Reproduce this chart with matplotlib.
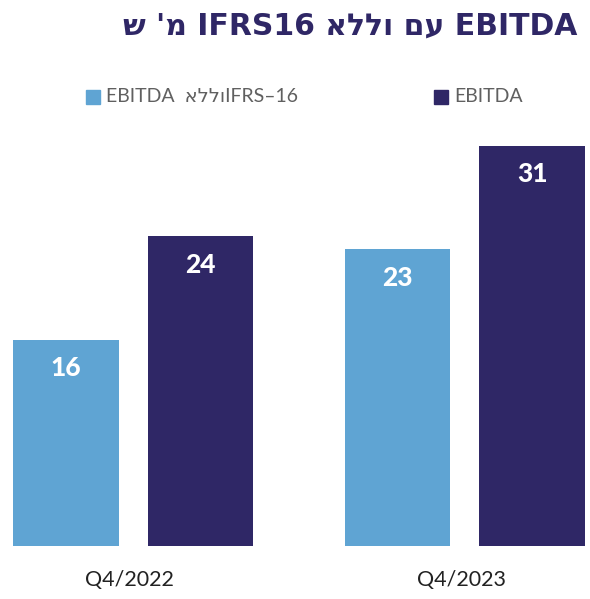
import numpy as np
import matplotlib.pyplot as plt
from matplotlib.patches import Rectangle

# data
quarters = ['Q4/2022', 'Q4/2023']
ebitda_no_ifrs = [16, 23]
ebitda = [24, 31]

# hebrew typed in visual order (matplotlib has no bidi)
title = "ש 'מ IFRS16 אללו םע EBITDA"
legend_labels = ["EBITDA  אללוIFRS–16", "EBITDA"]

light = '#5fa4d3'
dark = '#2f2766'

plt.rcParams['font.family'] = ['Lato', 'DejaVu Sans']

W, H = 590, 599
fig = plt.figure(figsize=(W / 100, H / 100), dpi=100)
ax = fig.add_axes([13 / W, 53 / H, 572 / W, 12.9 * 32 / H])

x = np.arange(len(quarters))
bw = 0.319
off = 0.203
b1 = ax.bar(x - off, ebitda_no_ifrs, bw, color=light)
b2 = ax.bar(x + off, ebitda, bw, color=dark)

for bars, vals in ((b1, ebitda_no_ifrs), (b2, ebitda)):
    for b, v in zip(bars, vals):
        ax.text(b.get_x() + b.get_width() / 2, v - 2.2, str(v), ha='center', va='center',
                color='white', fontsize=19, fontweight='black')

ax.set_xlim(-off - bw / 2, 1 + off + bw / 2)
ax.set_ylim(0, 32)
ax.set_xticks(x - 0.01)
ax.set_xticklabels(quarters, fontsize=15.5, color='#222222')
ax.tick_params(axis='x', length=0, pad=17)
ax.set_yticks([])
for s in ax.spines.values():
    s.set_visible(False)

fig.text(577 / W, 1 - 26 / H, title, ha='right', va='center', fontsize=21.5,
         fontweight='bold', color=dark, family=['DejaVu Sans'])

# legend
for (sx, tx), lab, c in zip([(86, 106), (434, 454)], legend_labels, [light, dark]):
    fig.patches.append(Rectangle((sx / W, 1 - 104 / H), 14 / W, 14 / H, color=c,
                                 transform=fig.transFigure, figure=fig))
    fig.text(tx / W, 1 - 97 / H, lab, ha='left', va='center', fontsize=14,
             color='#606060')

fig.savefig('out.png', dpi=100)
